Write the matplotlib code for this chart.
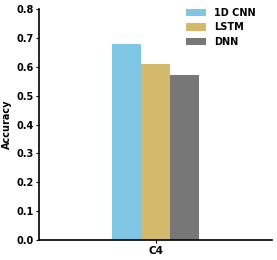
import numpy as np
import matplotlib
matplotlib.use("Agg")
import matplotlib.pyplot as plt

# data
groups = ["C4"]
models = ["1D CNN", "LSTM", "DNN"]
accuracy = [0.68, 0.61, 0.57]
colors = ["#7ec6e3", "#d5b96a", "#777777"]

fig = plt.figure(figsize=(2.77, 2.6), dpi=100)
ax = fig.add_axes([0.141, 0.077, 0.841, 0.888])

width = 0.25
x = np.arange(len(groups))
for i, (name, val, c) in enumerate(zip(models, accuracy, colors)):
    ax.bar(x + (i - 1) * width, [val], width, color=c, label=name)

ax.set_xlim(-1, 1)
ax.set_ylim(0, 0.8)
ax.set_xticks(x)
ax.set_xticklabels(groups, fontweight="bold", fontsize=7.5)
ax.set_yticks(np.arange(0, 0.81, 0.1))
ax.set_yticklabels([f"{v:.1f}" for v in np.arange(0, 0.81, 0.1)], fontweight="bold", fontsize=7)
ax.set_ylabel("Accuracy", fontweight="bold", fontsize=7, labelpad=3)
ax.tick_params(length=2, pad=2)

for s in ["top", "right"]:
    ax.spines[s].set_visible(False)
for s in ["left", "bottom"]:
    ax.spines[s].set_linewidth(1.2)

leg = ax.legend(loc="upper right", frameon=False, prop={"weight": "bold", "size": 7},
                handlelength=2.1, handleheight=0.8, labelspacing=0.45, handletextpad=0.8,
                bbox_to_anchor=(0.966, 1.043))

fig.savefig("out.png", dpi=100)
